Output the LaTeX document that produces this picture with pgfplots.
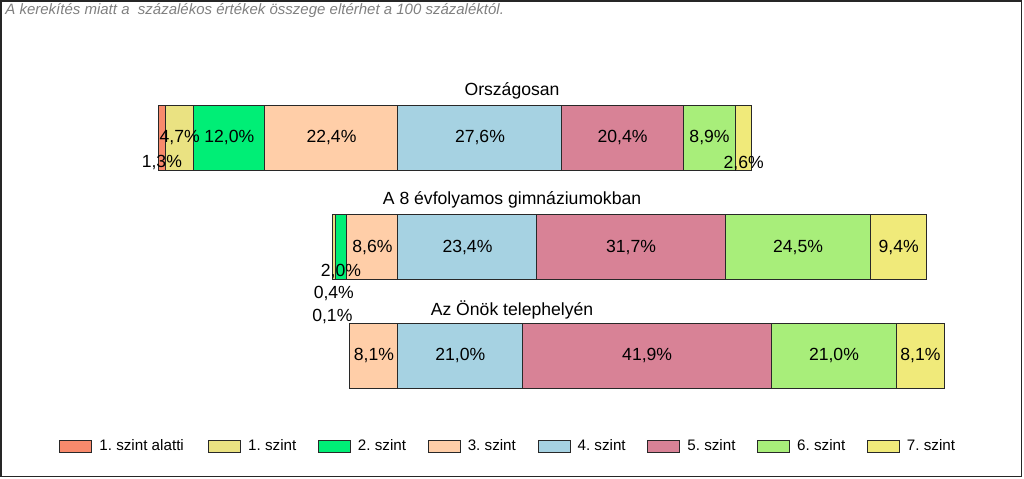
\documentclass[border=0pt]{standalone}
\usepackage{pgfplots}
\usepackage{pgfplotstable}
\pgfplotsset{compat=1.18}
\usepackage{fontspec}
\setmainfont{Liberation Sans}
\frenchspacing
\definecolor{c0}{RGB}{248,138,108}
\definecolor{c1}{RGB}{234,226,130}
\definecolor{c2}{RGB}{0,238,118}
\definecolor{c3}{RGB}{255,206,168}
\definecolor{c4}{RGB}{166,210,226}
\definecolor{c5}{RGB}{216,130,150}
\definecolor{c6}{RGB}{168,238,122}
\definecolor{c7}{RGB}{240,234,122}
\definecolor{edge}{RGB}{40,40,40}
\newcommand\legtxt[2][34.9pt]{\makebox[#1][l]{#2}}
\pgfplotstableread{
y off l0 l1 l2 l3 l4 l5 l6 l7
-137.5 0 1.3 4.7 12.0 22.4 27.6 20.4 8.9 2.6
-247 29.3 0.1 0.4 2.0 8.6 23.4 31.7 24.5 9.4
-355.5 32.3 0 0 0 8.1 21.0 41.9 21.0 8.1
}\data
\begin{document}
\begin{tikzpicture}[
  lbl/.style={font=\fontsize{8.8pt}{10pt}\selectfont, inner sep=0pt},
  ttl/.style={font=\fontsize{8.8pt}{10pt}\selectfont, inner sep=0pt}]
\useasboundingbox (0,0) rectangle (512pt,239pt);
\begin{axis}[at={(0,0)}, anchor=south west, scale only axis,
  width=512pt, height=239pt,
  xmin=-26.6, xmax=145.79, ymin=-478, ymax=0,
  hide axis, clip=false,
  xbar stacked, bar width=65,
  every axis plot/.append style={line width=0.5pt, draw=edge},
  legend columns=8,
  legend image code/.code={\draw[#1,line width=0.5pt] (0pt,-3pt) rectangle (16pt,3pt);},
  legend style={at={(0.0576,0.0649)}, anchor=west, draw=none, fill=none,
    inner sep=0pt, column sep=0pt,
    font=\fontsize{7.6pt}{9pt}\selectfont,
    nodes={inner sep=0pt},
    /tikz/every odd column/.append style={column sep=3.5pt}},
]
\addplot[draw=none, fill=none, forget plot] table[x=off, y=y] {\data};
\addplot[fill=c0] table[x=l0, y=y] {\data};
\addplot[fill=c1] table[x=l1, y=y] {\data};
\addplot[fill=c2] table[x=l2, y=y] {\data};
\addplot[fill=c3] table[x=l3, y=y] {\data};
\addplot[fill=c4] table[x=l4, y=y] {\data};
\addplot[fill=c5] table[x=l5, y=y] {\data};
\addplot[fill=c6] table[x=l6, y=y] {\data};
\addplot[fill=c7] table[x=l7, y=y] {\data};
\legend{\legtxt[54.4pt]{1. szint alatti}, \legtxt{1. szint}, \legtxt{2. szint}, \legtxt{3. szint}, \legtxt{4. szint}, \legtxt{5. szint}, \legtxt{6. szint}, \legtxt{7. szint}}
% titles
\coordinate (T1) at (axis cs:59.6,-91);
\coordinate (T2) at (axis cs:59.6,-200);
\coordinate (T3) at (axis cs:59.6,-310);
% bar 1 labels
\coordinate (a0) at (axis cs:0.65,-162);
\coordinate (a1) at (axis cs:3.65,-137.5);
\coordinate (a2) at (axis cs:12.0,-137.5);
\coordinate (a3) at (axis cs:29.2,-137.5);
\coordinate (a4) at (axis cs:54.2,-137.5);
\coordinate (a5) at (axis cs:78.2,-137.5);
\coordinate (a6) at (axis cs:92.85,-137.5);
\coordinate (a7) at (axis cs:98.6,-163);
% bar 2 labels
\coordinate (b0) at (axis cs:29.35,-316);
\coordinate (b1) at (axis cs:29.6,-293);
\coordinate (b2) at (axis cs:30.8,-271);
\coordinate (b3) at (axis cs:36.1,-247);
\coordinate (b4) at (axis cs:52.1,-247);
\coordinate (b5) at (axis cs:79.65,-247);
\coordinate (b6) at (axis cs:107.75,-247);
\coordinate (b7) at (axis cs:124.7,-247);
% bar 3 labels
\coordinate (c3) at (axis cs:36.35,-355.5);
\coordinate (c4) at (axis cs:50.9,-355.5);
\coordinate (c5) at (axis cs:82.35,-355.5);
\coordinate (c6) at (axis cs:113.8,-355.5);
\coordinate (c7) at (axis cs:128.35,-355.5);
\end{axis}
\node[ttl] at (T1) {Országosan};
\node[ttl] at (T2) {A 8 évfolyamos gimnáziumokban};
\node[ttl] at (T3) {Az Önök telephelyén};
\node[lbl] at (a0) {1,3\%};
\node[lbl] at (a1) {4,7\%};
\node[lbl] at (a2) {12,0\%};
\node[lbl] at (a3) {22,4\%};
\node[lbl] at (a4) {27,6\%};
\node[lbl] at (a5) {20,4\%};
\node[lbl] at (a6) {8,9\%};
\node[lbl] at (a7) {2,6\%};
\node[lbl] at (b0) {0,1\%};
\node[lbl] at (b1) {0,4\%};
\node[lbl] at (b2) {2,0\%};
\node[lbl] at (b3) {8,6\%};
\node[lbl] at (b4) {23,4\%};
\node[lbl] at (b5) {31,7\%};
\node[lbl] at (b6) {24,5\%};
\node[lbl] at (b7) {9,4\%};
\node[lbl] at (c3) {8,1\%};
\node[lbl] at (c4) {21,0\%};
\node[lbl] at (c5) {41,9\%};
\node[lbl] at (c6) {21,0\%};
\node[lbl] at (c7) {8,1\%};
\node[anchor=base west, inner sep=0pt, text=black!50, font=\itshape\fontsize{7.5pt}{9pt}\selectfont] at (2.5pt,232pt) {A kerekítés miatt a\ \ százalékos értékek összege eltérhet a 100 százaléktól.};
\draw[line width=0.75pt, black!85] (0.5pt,0.75pt) rectangle (510.75pt,238.6pt);
\end{tikzpicture}
\end{document}
